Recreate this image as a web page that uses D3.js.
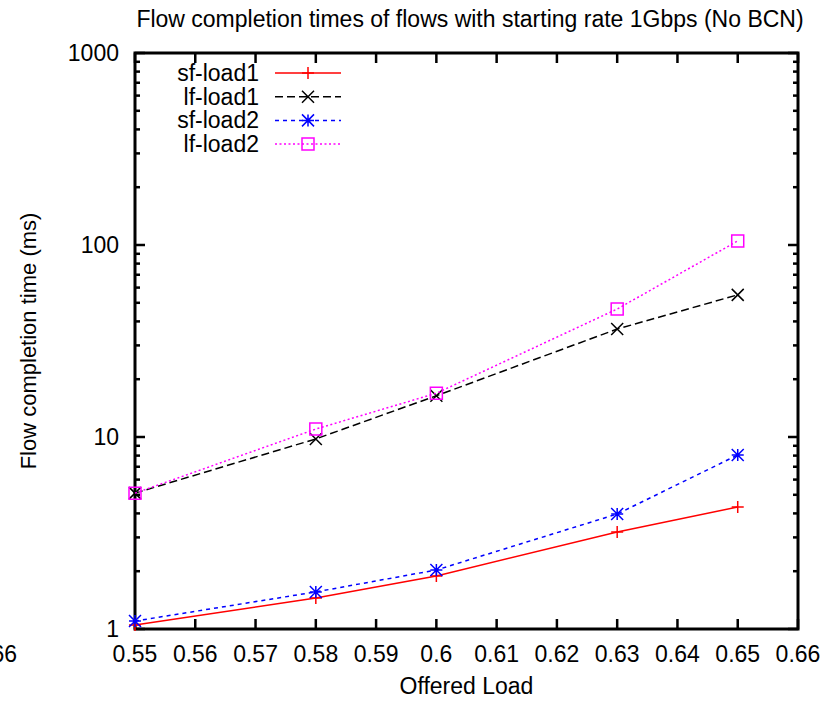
<!DOCTYPE html>
<html>
<head>
<meta charset="utf-8">
<script src="https://cdn.jsdelivr.net/npm/d3@7"></script>
<style>
  body { margin: 0; background: #fff; }
  text { font-family: "Liberation Sans", Arial, sans-serif; fill: #000; }
</style>
</head>
<body>
<div id="chart"></div>
<script>
// Offered load values (x) and flow completion times in ms (y)
const loads = [0.55, 0.58, 0.60, 0.63, 0.65];
const sfLoad1 = [1.05, 1.45, 1.89, 3.2, 4.32];
const lfLoad1 = [5.1, 9.77, 16.4, 36.5, 55];
const sfLoad2 = [1.1, 1.56, 2.03, 3.97, 8.06];
const lfLoad2 = [5.1, 11.0, 16.9, 46.4, 105];

const xTicks = [0.55, 0.56, 0.57, 0.58, 0.59, 0.6, 0.61, 0.62, 0.63, 0.64, 0.65, 0.66];
const yMajor = [1, 10, 100, 1000];
const seriesNames = ['sf-load1', 'lf-load1', 'sf-load2', 'lf-load2'];

const series = [
  { name: seriesNames[0], values: sfLoad1, color: '#ff0000', dash: null, marker: 'plus' },
  { name: seriesNames[1], values: lfLoad1, color: '#000000', dash: '8,4', marker: 'cross' },
  { name: seriesNames[2], values: sfLoad2, color: '#0000ff', dash: '4,4', marker: 'star' },
  { name: seriesNames[3], values: lfLoad2, color: '#ff00ff', dash: '2,2.5', marker: 'square' }
];

const width = 835, height = 701;
const margin = { left: 135, right: 37, top: 53, bottom: 72 };

const svg = d3.select('#chart').append('svg')
  .attr('width', width)
  .attr('height', height);

const x = d3.scaleLinear().domain([0.55, 0.66]).range([margin.left, width - margin.right]);
const y = d3.scaleLog().domain([1, 1000]).range([height - margin.bottom, margin.top]);

const x0 = x.range()[0], x1 = x.range()[1];
const y0 = y.range()[0], y1 = y.range()[1];
const fontSize = 23;

// Title
svg.append('text')
  .attr('x', 470).attr('y', 27)
  .attr('text-anchor', 'middle')
  .attr('font-size', fontSize)
  .text('Flow completion times of flows with starting rate 1Gbps (No BCN)');

// Ticks (inward, mirrored on all sides)
const tickG = svg.append('g').attr('stroke', '#000').attr('stroke-width', 2.5);

xTicks.forEach(t => {
  tickG.append('line').attr('x1', x(t)).attr('x2', x(t)).attr('y1', y0).attr('y2', y0 - 10);
  tickG.append('line').attr('x1', x(t)).attr('x2', x(t)).attr('y1', y1).attr('y2', y1 + 10);
  svg.append('text')
    .attr('x', x(t)).attr('y', y0 + 33)
    .attr('text-anchor', 'middle')
    .attr('font-size', fontSize)
    .text(d3.format('~g')(t));
});

// stray label left of the chart, as in the original output
svg.append('text')
  .attr('x', 17).attr('y', y0 + 33)
  .attr('text-anchor', 'end')
  .attr('font-size', fontSize)
  .text('0.66');

yMajor.forEach((t, i) => {
  tickG.append('line').attr('x1', x0).attr('x2', x0 + 10).attr('y1', y(t)).attr('y2', y(t));
  tickG.append('line').attr('x1', x1).attr('x2', x1 - 10).attr('y1', y(t)).attr('y2', y(t));
  svg.append('text')
    .attr('x', x0 - 16).attr('y', y(t) + 8)
    .attr('text-anchor', 'end')
    .attr('font-size', fontSize)
    .text(t);
  if (i < yMajor.length - 1) {
    for (let m = 2; m <= 9; m++) {
      const v = t * m;
      tickG.append('line').attr('x1', x0).attr('x2', x0 + 5).attr('y1', y(v)).attr('y2', y(v));
      tickG.append('line').attr('x1', x1).attr('x2', x1 - 5).attr('y1', y(v)).attr('y2', y(v));
    }
  }
});

// Frame
svg.append('rect')
  .attr('x', x0).attr('y', y1)
  .attr('width', x1 - x0).attr('height', y0 - y1)
  .attr('fill', 'none')
  .attr('stroke', '#000')
  .attr('stroke-width', 3);

// Axis labels
svg.append('text')
  .attr('x', (x0 + x1) / 2).attr('y', 694)
  .attr('text-anchor', 'middle')
  .attr('font-size', fontSize)
  .text('Offered Load');

svg.append('text')
  .attr('transform', `translate(36,${(y0 + y1) / 2}) rotate(-90)`)
  .attr('text-anchor', 'middle')
  .attr('font-size', 22)
  .text('Flow completion time (ms)');

// Marker drawing
function drawMarker(g, type, cx, cy, color) {
  const s = 6;
  const path = d3.path();
  if (type === 'plus' || type === 'star') {
    path.moveTo(cx - s, cy); path.lineTo(cx + s, cy);
    path.moveTo(cx, cy - s); path.lineTo(cx, cy + s);
  }
  if (type === 'cross' || type === 'star') {
    path.moveTo(cx - s, cy - s); path.lineTo(cx + s, cy + s);
    path.moveTo(cx - s, cy + s); path.lineTo(cx + s, cy - s);
  }
  if (type === 'square') {
    path.rect(cx - s, cy - s, 2 * s, 2 * s);
  }
  g.append('path')
    .attr('d', path.toString())
    .attr('fill', 'none')
    .attr('stroke', color)
    .attr('stroke-width', 1.5);
}

const line = d3.line()
  .x((d, i) => x(loads[i]))
  .y(d => y(d));

series.forEach(s => {
  svg.append('path')
    .datum(s.values)
    .attr('d', line)
    .attr('fill', 'none')
    .attr('stroke', s.color)
    .attr('stroke-width', 1.5)
    .attr('stroke-dasharray', s.dash);
  const mg = svg.append('g');
  s.values.forEach((v, i) => drawMarker(mg, s.marker, x(loads[i]), y(v), s.color));
});

// Legend
const legend = svg.append('g');
series.forEach((s, i) => {
  const ly = 73 + i * 23.7;
  legend.append('text')
    .attr('x', 259).attr('y', ly + 8)
    .attr('text-anchor', 'end')
    .attr('font-size', fontSize)
    .text(s.name);
  legend.append('line')
    .attr('x1', 275).attr('x2', 341)
    .attr('y1', ly).attr('y2', ly)
    .attr('stroke', s.color)
    .attr('stroke-width', 1.5)
    .attr('stroke-dasharray', s.dash);
  drawMarker(legend, s.marker, 308, ly, s.color);
});
</script>
</body>
</html>
